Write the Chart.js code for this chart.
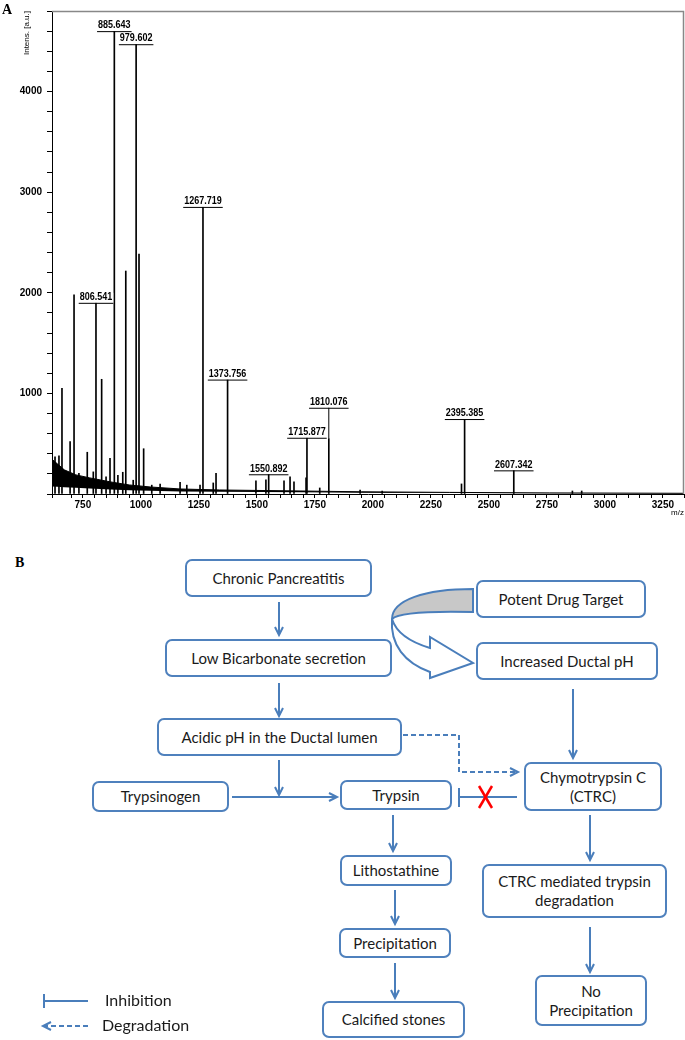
<!DOCTYPE html>
<html lang="en">
<head>
<meta charset="UTF-8" />
<title>MALDI spectrum and CTRC pathway</title>
<script src="https://cdn.jsdelivr.net/npm/chart.js"></script>
<style>
  body { margin: 0; background: #fff; }
  #page { position: relative; width: 685px; height: 1040px; overflow: hidden; background: #fff; }
  #spec { position: absolute; left: 0; top: 0; }
  .panel { position: absolute; font: bold 14px 'Liberation Serif', 'Times New Roman', serif; color: #000; line-height: 1; }
  .box {
    position: absolute; box-sizing: border-box;
    border: 2px solid #4f81bd; border-radius: 7px; background: #fff;
    display: flex; align-items: center; justify-content: center; text-align: center;
    font: 15px Lato, 'Open Sans', sans-serif; color: #1a1a1a; line-height: 19px;
  }
  .legend { position: absolute; font: 16px Lato, 'Open Sans', sans-serif; color: #1a1a1a; line-height: 18px; }
  svg { position: absolute; left: 0; top: 0; }
</style>
</head>
<body>
<div id="page">
  <canvas id="spec" width="685" height="520"></canvas>
  <div class="panel" style="left:2px; top:3px;">A</div>
  <div class="panel" style="left:15px; top:556px;">B</div>

  <svg width="685" height="1040">
    <defs>
      <marker id="ah" markerUnits="userSpaceOnUse" markerWidth="12" markerHeight="12" refX="9" refY="5" orient="auto">
        <path d="M1,1 L9,5 L1,9" fill="none" stroke="#4a7ebb" stroke-width="2" />
      </marker>
    </defs>
    <g stroke="#4a7ebb" stroke-width="2" fill="none" marker-end="url(#ah)">
      <line x1="279" y1="602" x2="279" y2="635" />
      <line x1="279" y1="683" x2="279" y2="716" />
      <line x1="279" y1="760" x2="279" y2="795" />
      <line x1="232" y1="797" x2="337" y2="797" />
      <line x1="573" y1="689" x2="573" y2="758" />
      <line x1="393" y1="815" x2="393" y2="851" />
      <line x1="395" y1="890" x2="395" y2="924" />
      <line x1="395" y1="963" x2="395" y2="998" />
      <line x1="590" y1="815" x2="590" y2="860" />
      <line x1="590" y1="927" x2="590" y2="972" />
      <polyline points="403,735 459,735 459,772 518,772" stroke-dasharray="5,3" />
    </g>
    <!-- inhibition -->
    <g stroke="#4a7ebb" stroke-width="2">
      <line x1="459" y1="797" x2="517" y2="797" />
      <line x1="459" y1="788" x2="459" y2="807" />
      <line x1="44" y1="1001" x2="88" y2="1001" />
      <line x1="44" y1="994" x2="44" y2="1008" />
      <line x1="88" y1="1026" x2="43" y2="1026" stroke-dasharray="5,3" marker-end="url(#ah)" />
    </g>
    <g stroke="#ff0000" stroke-width="2.5">
      <line x1="479" y1="786" x2="492" y2="808" />
      <line x1="492" y1="786" x2="479" y2="808" />
    </g>
    <!-- curved block arrow -->
    <path d="M473,589 C425,589 392,600 392,619 C398,613 430,611 473,612 Z" fill="#c8c8c8" stroke="#4a7ebb" stroke-width="2" />
    <path d="M392,619 C390,645 405,663 430,672 L430,678 L473,663 L430,637 L430,648 C410,642 396,632 392,619 Z" fill="#fff" stroke="#4a7ebb" stroke-width="2" />
  </svg>

  <div class="box" style="left:185px; top:559px; width:187px; height:38px;">Chronic Pancreatitis</div>
  <div class="box" style="left:476px; top:580px; width:170px; height:38px;">Potent Drug Target</div>
  <div class="box" style="left:165px; top:639px; width:227px; height:38px;">Low Bicarbonate secretion</div>
  <div class="box" style="left:476px; top:642px; width:182px; height:38px;">Increased Ductal pH</div>
  <div class="box" style="left:157px; top:718px; width:245px; height:38px;">Acidic pH in the Ductal lumen</div>
  <div class="box" style="left:92px; top:781px; width:137px; height:31px;">Trypsinogen</div>
  <div class="box" style="left:340px; top:780px; width:112px; height:30px;">Trypsin</div>
  <div class="box" style="left:524px; top:762px; width:138px; height:49px;">Chymotrypsin C<br>(CTRC)</div>
  <div class="box" style="left:340px; top:855px; width:112px; height:31px;">Lithostathine</div>
  <div class="box" style="left:482px; top:864px; width:185px; height:54px;">CTRC mediated trypsin<br>degradation</div>
  <div class="box" style="left:339px; top:928px; width:112px; height:30px;">Precipitation</div>
  <div class="box" style="left:535px; top:975px; width:112px; height:51px;">No<br>Precipitation</div>
  <div class="box" style="left:322px; top:1001px; width:143px; height:37px;">Calcified stones</div>

  <div class="legend" style="left:105px; top:991px;">Inhibition</div>
  <div class="legend" style="left:102px; top:1016px;">Degradation</div>
</div>

<script>
  // unlabelled peaks (m/z, intensity in a.u.)
  const peakMz = [630, 647, 660, 695, 712, 733, 769, 795, 831, 850, 867, 901, 922, 935,
    967, 992, 1012, 1047, 1083, 1169, 1198, 1255, 1312, 1324,
    1496, 1539, 1617, 1643, 1660, 1712, 1771, 1945, 2040, 2382, 2860, 2900];
  const peakInt = [370, 380, 1050, 520, 1980, 205, 415, 220, 1140, 170, 355, 185, 216, 2216,
    137, 2385, 450, 88, 98, 117, 88, 88, 110, 205,
    130, 140, 130, 170, 120, 160, 60, 40, 30, 100, 30, 30];

  // labelled peaks
  const labelMz = [806.541, 885.643, 979.602, 1267.719, 1373.756, 1550.892,
    1715.877, 1810.076, 2395.385, 2607.342];
  const labelInt = [1900, 4600, 4470, 2853, 1137, 196, 559, 549, 745, 235];

  // noise band, lower and upper edge
  const noiseMz = [617, 640, 670, 720, 780, 870, 950, 1040, 1170, 1340, 1690, 1950, 2330, 2760, 3341];
  const noiseLow = [75, 72, 68, 62, 55, 45, 38, 32, 26, 22, 17, 13, 10, 7, 5];
  const noiseHigh = [345, 300, 240, 190, 160, 120, 90, 70, 50, 40, 30, 22, 16, 11, 7];

  const peaks = peakMz.map((m, i) => ({ x: m, y: peakInt[i] }))
    .concat(labelMz.map((m, i) => ({ x: m, y: labelInt[i] })));

  const tickFont = { family: "'Liberation Sans', Arial, sans-serif", size: 10, weight: 'bold' };
  const titleFont = { family: "'Liberation Sans', Arial, sans-serif", size: 8 };

  const frame = {
    id: 'frame',
    afterDraw(chart) {
      const { ctx, chartArea: a } = chart;
      ctx.save();
      ctx.strokeStyle = '#888';
      ctx.lineWidth = 1.5;
      ctx.beginPath();
      ctx.moveTo(a.left, a.top + 0.5);
      ctx.lineTo(a.right - 0.5, a.top + 0.5);
      ctx.lineTo(a.right - 0.5, a.bottom);
      ctx.stroke();
      ctx.restore();
    }
  };

  const peakLabels = {
    id: 'peakLabels',
    afterDatasetsDraw(chart) {
      const { ctx, scales: { x, y } } = chart;
      ctx.save();
      ctx.font = 'bold 10px ' + tickFont.family;
      ctx.textAlign = 'center';
      ctx.textBaseline = 'bottom';
      const order = labelMz.map((m, i) => i).sort((a, b) => labelInt[b] - labelInt[a]);
      const placed = [];
      order.forEach(i => {
        const txt = labelMz[i].toFixed(3);
        const w = ctx.measureText(txt).width * 0.9 + 2;
        const px = x.getPixelForValue(labelMz[i]);
        const top = y.getPixelForValue(labelInt[i]);
        let base = top;
        for (const p of placed) {
          if (px - w / 2 < p.r && px + w / 2 > p.l && base > p.t && base - 11 < p.b) base = p.t - 19;
        }
        placed.push({ l: px - w / 2, r: px + w / 2, t: base - 11, b: base });
        ctx.fillStyle = '#fff';
        ctx.fillRect(px - w / 2, base - 10, w, 10);
        ctx.fillStyle = '#000';
        ctx.save();
        ctx.translate(px, base - 0.5);
        ctx.scale(0.9, 1);
        ctx.fillText(txt, 0, 0);
        ctx.restore();
        ctx.strokeStyle = '#000';
        ctx.lineWidth = 1;
        ctx.beginPath();
        ctx.moveTo(px - w / 2, base + 0.5);
        ctx.lineTo(px + w / 2, base + 0.5);
        if (base < top) {
          ctx.moveTo(px, base);
          ctx.lineTo(px, top);
        }
        ctx.stroke();
      });
      ctx.restore();
    }
  };

  new Chart(document.getElementById('spec'), {
    data: {
      datasets: [
        {
          type: 'line', label: 'low', data: noiseMz.map((m, i) => ({ x: m, y: noiseLow[i] })),
          borderWidth: 0, pointRadius: 0, fill: false
        },
        {
          type: 'line', label: 'noise', data: noiseMz.map((m, i) => ({ x: m, y: noiseHigh[i] })),
          borderColor: '#000', borderWidth: 1, pointRadius: 0, fill: '-1', backgroundColor: '#000'
        },
        {
          type: 'bar', label: 'peaks', data: peaks,
          backgroundColor: '#000', barThickness: 1, grouped: false
        }
      ]
    },
    options: {
      responsive: false,
      animation: false,
      layout: { padding: { top: 3, right: 1, left: 0, bottom: 0 } },
      plugins: { legend: { display: false }, tooltip: { enabled: false } },
      scales: {
        x: {
          type: 'linear', min: 617, max: 3341, offset: false,
          afterFit: s => { s.height = 26; },
          ticks: {
            stepSize: 50, autoSkip: false, maxRotation: 0, padding: 1,
            color: '#000', font: tickFont,
            callback: v => (v % 250 === 0 ? v : '')
          },
          grid: { drawOnChartArea: false, offset: false, tickLength: 4, color: '#000' },
          border: { color: '#000', width: 1 },
          title: { display: true, text: 'm/z', align: 'end', color: '#000', font: titleFont, padding: { top: 0, bottom: 2 } }
        },
        y: {
          min: 0, max: 4800,
          afterFit: s => { s.width = 52; },
          ticks: {
            stepSize: 200, autoSkip: false, padding: 5,
            color: '#000', font: tickFont,
            callback: v => (v % 1000 === 0 && v > 0 ? v : '')
          },
          grid: { drawOnChartArea: false, tickLength: 5, color: '#000' },
          border: { color: '#000', width: 1 },
          title: { display: true, text: 'Intens. [a.u.]', align: 'end', color: '#000', font: titleFont, padding: { top: 22, bottom: 0 } }
        }
      }
    },
    plugins: [frame, peakLabels]
  });
</script>
</body>
</html>
